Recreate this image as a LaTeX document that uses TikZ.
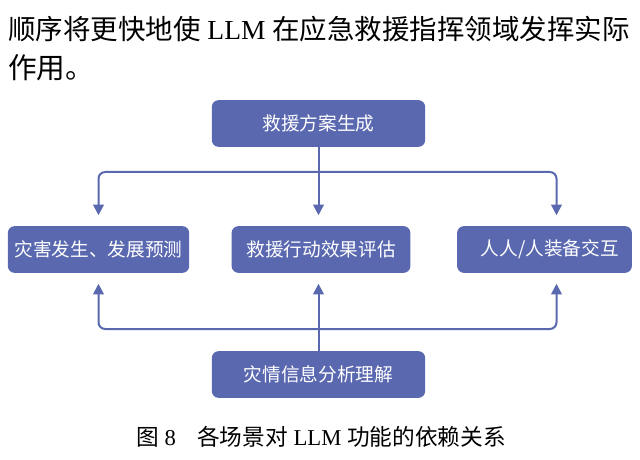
\documentclass[tikz,border=0pt]{standalone}
\usepackage{fontspec}
\setmainfont{Liberation Serif}
\newfontfamily\cjk{Noto Sans CJK SC}
\usetikzlibrary{arrows.meta}
\definecolor{boxblue}{RGB}{90,104,176}
\tikzset{
  box/.style={draw=none, fill=boxblue, rounded corners=5pt, text=white,
    font=\cjk\fontsize{14}{16}\selectfont, inner sep=0pt, anchor=center},
  conn/.style={draw=boxblue, line width=1.5pt, rounded corners=5pt},
  arr/.style={conn, -{Triangle[width=8pt,length=8pt]}, shorten >=8pt},
}
\begin{document}
\begin{tikzpicture}[x=0.75pt, y=-0.75pt]
\useasboundingbox (0,0) rectangle (640,460);
% header text
\node[anchor=west, inner sep=0pt, font=\fontsize{21.5}{26}\selectfont] (h1) at (8,29)
  {\resizebox{466pt}{!}{{\cjk 顺序将更快地使} LLM {\cjk 在应急救援指挥领域发挥实际}}};
\node[anchor=west, inner sep=0pt, font=\cjk\fontsize{21.5}{26}\selectfont] (h2) at (8,68) {作用。};
% boxes
\node[box, minimum width=160pt, minimum height=35pt] (top) at (318.5,123.5) {救援方案生成};
\node[box, minimum width=136pt, minimum height=35pt] (left) at (98.5,249.5) {灾害发生、发展预测};
\node[box, minimum width=134pt, minimum height=35pt] (mid) at (321,249.5) {救援行动效果评估};
\node[box, minimum width=131pt, minimum height=35pt] (right) at (544.5,249.5) {\hspace{8pt}人人/人装备交互};
\node[box, minimum width=160pt, minimum height=35pt] (bot) at (318.5,374.5) {灾情信息分析理解};
% top connectors
\coordinate (tj) at (top.south |- 0,172);
\coordinate (rtop) at ([xshift=9pt]right.north);
\draw[arr] (top.south) -- (top.south |- mid.north);
\draw[arr] (tj) -| (left.north);
\draw[arr] (tj) -| (rtop);
% bottom connectors
\coordinate (bj) at (bot.north |- 0,329);
\coordinate (rbot) at ([xshift=9pt]right.south);
\draw[arr] (bot.north) -- (bot.north |- mid.south);
\draw[arr] (bj) -| (left.south);
\draw[arr] (bj) -| (rbot);
% caption
\node[inner sep=0pt, font=\fontsize{17}{19}\selectfont] (cap) at (321,437)
  {{\cjk 图} 8\hspace{16pt}{\cjk 各场景对} LLM {\cjk 功能的依赖关系}};
\end{tikzpicture}
\end{document}
